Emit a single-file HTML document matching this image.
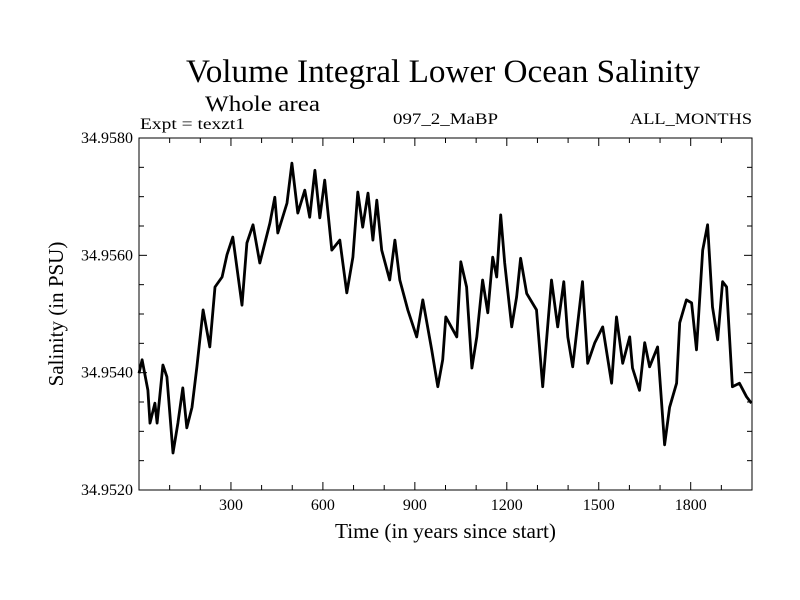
<!DOCTYPE html>
<html><head><meta charset="utf-8"><style>
body{margin:0;background:#fff;}
svg{display:block;font-family:"Liberation Serif",serif;}
</style></head><body>
<svg id="chart" width="800" height="600" viewBox="0 0 800 600">
<rect width="800" height="600" fill="#fff"/>
<text x="186" y="82" font-size="33" textLength="514" lengthAdjust="spacingAndGlyphs">Volume Integral Lower Ocean Salinity</text>
<text x="205" y="111" font-size="22" textLength="115" lengthAdjust="spacingAndGlyphs">Whole area</text>
<text x="140" y="129" font-size="16" textLength="105" lengthAdjust="spacingAndGlyphs">Expt = texzt1</text>
<text x="393" y="124" font-size="16" textLength="105" lengthAdjust="spacingAndGlyphs">097_2_MaBP</text>
<text x="630" y="124" font-size="16" textLength="122" lengthAdjust="spacingAndGlyphs">ALL_MONTHS</text>
<text x="335" y="538" font-size="21" textLength="221" lengthAdjust="spacingAndGlyphs">Time (in years since start)</text>
<text x="0" y="0" font-size="21" text-anchor="middle" transform="translate(63,314) rotate(-90)">Salinity (in PSU)</text>
<g id="axes"></g>
<g id="plot"></g>
</svg>
<script>
const years=[0,10,29,36,52,59,78,91,111,127,143,156,173,189,209,231,248,271,287,306,336,352,372,394,427,443,453,483,499,518,541,557,574,590,606,629,655,678,698,714,730,747,763,776,792,818,835,851,877,906,926,955,975,991,1001,1037,1050,1069,1086,1102,1121,1138,1154,1167,1180,1193,1216,1232,1245,1265,1297,1317,1346,1366,1386,1399,1415,1447,1464,1487,1513,1542,1558,1578,1601,1610,1633,1650,1666,1692,1715,1731,1754,1764,1786,1803,1819,1839,1855,1871,1888,1904,1917,1936,1959,1982,1998];
const salinity=[34.95399,34.95422,34.95370,34.95314,34.95348,34.95314,34.95413,34.95393,34.95263,34.95314,34.95374,34.95306,34.95341,34.95410,34.95507,34.95444,34.95546,34.95563,34.95601,34.95631,34.95515,34.95621,34.95652,34.95587,34.95655,34.95699,34.95638,34.95689,34.95757,34.95672,34.95711,34.95665,34.95745,34.95664,34.95728,34.95609,34.95626,34.95536,34.95597,34.95708,34.95648,34.95706,34.95626,34.95694,34.95609,34.95558,34.95626,34.95558,34.95507,34.95461,34.95524,34.95439,34.95376,34.95422,34.95495,34.95461,34.95589,34.95546,34.95408,34.95461,34.95558,34.95502,34.95597,34.95563,34.95669,34.95587,34.95478,34.95529,34.95595,34.95535,34.95507,34.95376,34.95558,34.95478,34.95555,34.95461,34.95410,34.95555,34.95416,34.95451,34.95478,34.95382,34.95495,34.95416,34.95461,34.95408,34.95370,34.95451,34.95410,34.95444,34.95277,34.95341,34.95382,34.95485,34.95524,34.95519,34.95439,34.95609,34.95652,34.95512,34.95456,34.95555,34.95546,34.95376,34.95382,34.95359,34.95348];
const xTickLabels=[300,600,900,1200,1500,1800];
const yTickLabels=["34.9520","34.9540","34.9560","34.9580"];
const X0=139,X1=752,Y0=138,Y1=490,XMIN=0,XMAX=2000,YMIN=34.952,YMAX=34.958;
const sx=v=>X0+(v-XMIN)/(XMAX-XMIN)*(X1-X0);
const sy=v=>Y1-(v-YMIN)/(YMAX-YMIN)*(Y1-Y0);
const NS="http://www.w3.org/2000/svg";
const axes=document.getElementById('axes'),plot=document.getElementById('plot');
function mk(tag,attrs,parent){const e=document.createElementNS(NS,tag);for(const k in attrs)e.setAttribute(k,attrs[k]);parent.appendChild(e);return e;}
const frame=mk('rect',{x:X0,y:Y0,width:X1-X0,height:Y1-Y0,fill:'none',stroke:'#000','stroke-width':1},axes);


for(let t=100;t<XMAX;t+=100){const big=t%300===0;const L=big?8:5;
 const a=mk('line',{x1:sx(t),x2:sx(t),y1:Y1,y2:Y1-L,stroke:'#000'},axes);
 
 
 const b=mk('line',{x1:sx(t),x2:sx(t),y1:Y0,y2:Y0+L,stroke:'#000'},axes);
 
 }
xTickLabels.forEach(t=>{const e=mk('text',{x:sx(t),y:Y1+20,'font-size':16,'text-anchor':'middle'},axes);e.textContent=t;
 
 });
for(let i=1;i<12;i++){const v=YMIN+i*0.0005;const big=i%4===0;const L=big?8:5;
 const a=mk('line',{x1:X0,x2:X0+L,y1:sy(v),y2:sy(v),stroke:'#000'},axes);
 
 
 const b=mk('line',{x1:X1,x2:X1-L,y1:sy(v),y2:sy(v),stroke:'#000'},axes);
 
 }
yTickLabels.forEach(s=>{const e=mk('text',{x:X0-6,y:sy(parseFloat(s))+5,'font-size':16,'text-anchor':'end'},axes);e.textContent=s;
 
 });
const d=years.map((y,i)=>(i?'L':'M')+sx(y).toFixed(1)+','+sy(salinity[i]).toFixed(1)).join('');
const p=mk('path',{d:d,fill:'none',stroke:'#000','stroke-width':2.8,'stroke-linejoin':'round'},plot);


</script>
</body></html>
